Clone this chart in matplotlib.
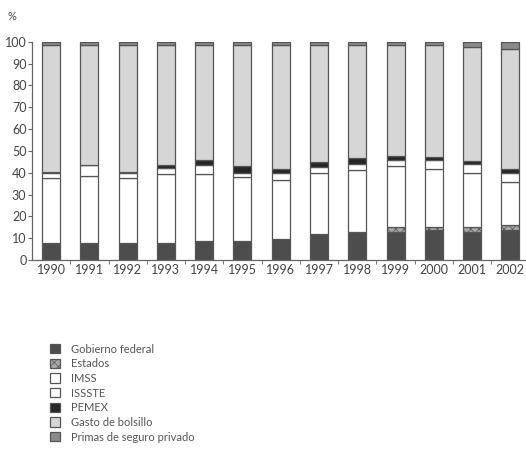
import numpy as np
import matplotlib
matplotlib.use("Agg")
import matplotlib.pyplot as plt
from matplotlib.patches import Patch

years = ["1990", "1991", "1992", "1993", "1994", "1995", "1996",
         "1997", "1998", "1999", "2000", "2001", "2002"]

# participación porcentual por fuente de financiamiento
gobierno_federal = [8.0, 8.0, 8.0, 8.0, 8.7, 8.7, 9.5, 11.9, 12.7, 12.7, 13.7, 13.0, 13.7]
estados = [0.0, 0.0, 0.0, 0.0, 0.0, 0.0, 0.0, 0.0, 0.0, 2.3, 1.3, 2.0, 2.3]
imss = [29.5, 30.5, 29.7, 31.2, 30.5, 29.5, 27.1, 28.1, 28.5, 28.0, 26.5, 24.7, 19.9]
issste = [2.3, 5.0, 2.3, 2.8, 4.3, 1.8, 3.1, 2.7, 2.8, 3.0, 4.3, 4.1, 4.1]
pemex = [0.4, 0.2, 0.2, 1.5, 2.3, 3.0, 1.8, 2.3, 2.6, 1.8, 1.2, 1.7, 1.8]
gasto_bolsillo = [58.3, 54.8, 58.3, 55.0, 52.7, 55.5, 57.0, 53.5, 51.9, 50.7, 51.5, 52.2, 54.8]
primas_seguro = [1.5, 1.5, 1.5, 1.5, 1.5, 1.5, 1.5, 1.5, 1.5, 1.5, 1.5, 2.3, 3.4]

series = [
    ("Gobierno federal", gobierno_federal, "#4d4d4d", None),
    ("Estados", estados, "#a8a8a8", "xxxx"),
    ("IMSS", imss, "white", None),
    ("ISSSTE", issste, "white", None),
    ("PEMEX", pemex, "#262626", None),
    ("Gasto de bolsillo", gasto_bolsillo, "#d6d6d6", None),
    ("Primas de seguro privado", primas_seguro, "#8a8a8a", None),
]

plt.rcParams["font.family"] = ["Lato", "DejaVu Sans"]
plt.rcParams["hatch.linewidth"] = 0.5

fig = plt.figure(figsize=(5.26, 4.55), dpi=100)
ax = fig.add_axes([32 / 526, 195 / 455, 494 / 526, 218.3 / 455])

x = np.arange(len(years))
bottom = np.zeros(len(years))
handles = []
for name, vals, color, hatch in series:
    vals = np.array(vals)
    ax.bar(x, vals, width=0.47, bottom=bottom, color=color,
           edgecolor="#555555", linewidth=0.9, hatch=hatch)
    bottom += vals
    handles.append(Patch(facecolor=color, edgecolor="#555555",
                         linewidth=0.9, hatch=hatch, label=name))

ax.set_xlim(-0.5, 12.41)
ax.set_ylim(0, 100)
ax.set_yticks(range(0, 101, 10))
ax.set_xticks(x)
ax.set_xticklabels(years)
ax.set_xticks(x[:-1] + 0.5, minor=True)
ax.tick_params(axis="x", which="major", length=0, pad=3,
               labelsize=9, labelcolor="#444444")
ax.tick_params(axis="x", which="minor", length=3, color="#666666",
               direction="out")
ax.tick_params(axis="y", length=3, color="#666666", pad=1,
               labelsize=9, labelcolor="#444444")
for s in ["top", "right"]:
    ax.spines[s].set_visible(False)
for s in ["left", "bottom"]:
    ax.spines[s].set_color("#666666")
    ax.spines[s].set_linewidth(0.9)

fig.text(8 / 526, 1 - 17 / 455, "%", fontsize=8, color="#444444",
         va="center", ha="left")

fig.legend(handles=handles, loc="upper left",
           bbox_to_anchor=(44 / 526, 1 - 338 / 455),
           frameon=False, fontsize=8, labelcolor="#555555",
           handlelength=0.9, handleheight=0.9, handletextpad=1.0,
           labelspacing=0.33, borderpad=0)

fig.savefig("out.png", dpi=100)
